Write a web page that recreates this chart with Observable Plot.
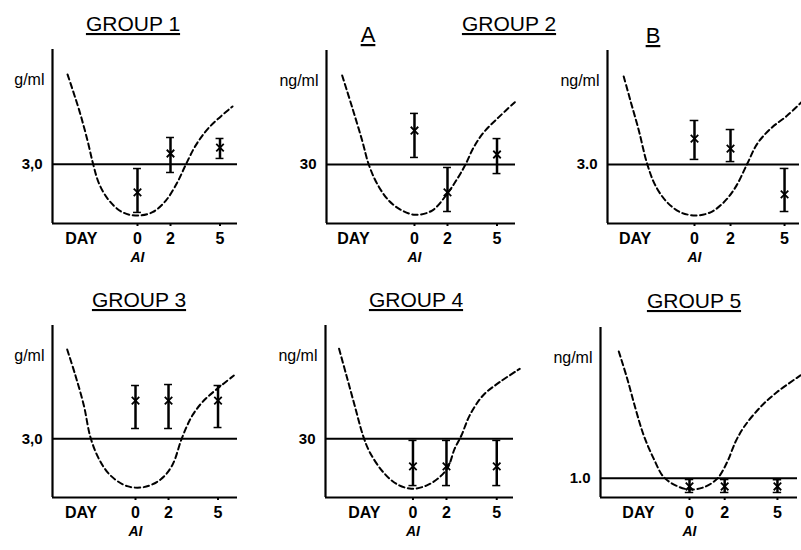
<!DOCTYPE html>
<html>
<head>
<meta charset="utf-8">
<script src="https://cdn.jsdelivr.net/npm/d3@7"></script>
<script src="https://cdn.jsdelivr.net/npm/@observablehq/plot@0.6"></script>
<style>
  html, body { margin: 0; padding: 0; background: #fff; overflow: hidden; }
  #chart { position: relative; width: 801px; height: 550px; background: #fff; }
  #chart svg { position: absolute; overflow: visible; }
</style>
</head>
<body>
<div id="chart"></div>
<script>
// ---------- data ----------
const titleTexts = ["GROUP 1", "A", "GROUP 2", "B", "GROUP 3", "GROUP 4", "GROUP 5"];
const days = [0, 2, 5];
const dayTickLabels = ["0", "2", "5"];
const dayWord = "DAY";
const dayWordAt = [-3.4, -3.7, -3.3, -3.3, -2.9, -2.9];
const units = ["g/ml", "ng/ml", "ng/ml", "g/ml", "ng/ml", "ng/ml"];
const refValues = [3.0, 3.0, 3.0, 3.0, 3.0, 1.0];
const refLabels = ["3,0", "30", "3.0", "3,0", "30", "1.0"];
const xTitle = "AI";

// dashed curves [day, value]
const curve1 = [[-4.24,7.54],[-3.53,5.72],[-3.03,4.20],[-2.68,2.98],[-2.32,2.0],[-1.72,1.16],[-0.91,0.57],[0,0.40],
  [0.91,0.57],[1.72,1.16],[2.42,2.09],[2.93,2.98],[3.53,3.95],[4.35,4.87],[5.76,5.92]];
const curve2 = [[-4.38,7.53],[-3.78,5.92],[-3.17,4.22],[-2.77,3.0],[-2.26,2.02],[-1.56,1.17],[-0.75,0.66],[0.06,0.44],
  [1.07,0.66],[1.98,1.51],[2.59,2.27],[3.09,3.0],[3.59,3.88],[4.2,4.64],[5.11,5.41],[6.08,6.17]];
const curve3 = [[-3.93,7.48],[-3.56,6.26],[-3.09,4.73],[-2.63,3.04],[-2.17,1.93],[-1.52,1.08],[-0.78,0.57],[0.06,0.41],
  [0.89,0.57],[1.63,1.08],[2.28,1.85],[2.93,3.04],[3.48,4.05],[4.22,4.82],[5.15,5.49],[5.94,6.17]];
const curve4 = [[-4.14,7.57],[-3.64,6.24],[-3.13,4.71],[-2.73,3.08],[-2.22,1.98],[-1.52,1.13],[-0.5,0.58],[0.5,0.53],
  [1.52,0.92],[2.22,1.64],[2.83,3.08],[3.44,4.19],[4.14,4.96],[4.95,5.56],[5.96,6.24]];
const curve5 = [[-4.41,7.61],[-3.97,6.24],[-3.48,4.71],[-2.98,3.17],[-2.58,2.32],[-1.78,1.30],[-0.99,0.70],[-0.10,0.45],
  [0.80,0.61],[1.59,1.04],[2.09,1.55],[2.49,2.50],[2.89,3.17],[3.38,4.19],[4.18,5.22],[5.17,5.90],[6.37,6.58]];
const curve6 = [[-4.02,7.56],[-3.54,6.15],[-3.07,4.6],[-2.6,3.21],[-2.03,2.0],[-1.46,1.05],[-0.7,0.59],[0.02,0.41],
  [0.81,0.53],[1.57,0.97],[2.14,1.83],[2.61,2.87],[3.09,3.64],[4.03,4.68],[4.98,5.46],[6.31,6.32]];

// error bars at days 0, 2, 5
const mean1 = [1.57, 3.54, 3.84], lo1 = [0.56, 2.58, 3.29], hi1 = [2.78, 4.35, 4.30];
const mean2 = [4.73, 1.58, 3.51], lo2 = [3.36, 0.61, 2.54], hi2 = [5.60, 2.85, 4.32];
const mean3 = [4.32, 3.81, 1.48], lo3 = [3.26, 3.15, 0.61], hi3 = [5.24, 4.78, 2.80];
const mean4 = [4.96, 4.96, 4.96], lo4 = [3.53, 3.53, 3.58], hi4 = [5.73, 5.78, 5.73];
const mean5 = [1.59, 1.59, 1.59], lo5 = [0.61, 0.61, 0.61], hi5 = [2.92, 2.92, 2.92];
const mean6 = [0.57, 0.57, 0.57], lo6 = [0.26, 0.26, 0.26], hi6 = [0.93, 0.93, 0.92];

// ---------- layout ----------
const curves = [curve1, curve2, curve3, curve4, curve5, curve6];
const means = [mean1, mean2, mean3, mean4, mean5, mean6];
const los = [lo1, lo2, lo3, lo4, lo5, lo6];
const his = [hi1, hi2, hi3, hi4, hi5, hi6];
const frames = [
  {left: 52,  top: 49,  w: 185, h: 174, xd: [-5.15, 6.06]},
  {left: 326, top: 50,  w: 189, h: 173, xd: [-5.33, 6.12]},
  {left: 607, top: 50,  w: 192, h: 173, xd: [-4.83, 5.83]},
  {left: 52,  top: 325, w: 185, h: 172, xd: [-5.03, 6.18]},
  {left: 325, top: 325, w: 188, h: 172, xd: [-5.22, 6.00]},
  {left: 600, top: 327, w: 197, h: 170, xd: [-5.06, 6.14]}
];
const titlePos = [[133, 31], [368, 42], [509, 31], [653, 43], [139, 307], [416, 307], [694, 308]];
const FONT = "'Liberation Sans', Arial, sans-serif";

const root = document.getElementById("chart");

frames.forEach((F, i) => {
  const mL = 60, mR = 14, mT = 12, mB = 50;
  const rows = days.map((d, k) => ({day: d, mean: means[i][k], lo: los[i][k], hi: his[i][k]}));
  const pts = curves[i].map(([x, y]) => ({x, y}));
  const tickPos = [dayWordAt[i], ...days];
  const tickLab = new Map(tickPos.map((t, k) => [t, [dayWord, ...dayTickLabels][k]]));
  const cap = 0.24;
  const svg = Plot.plot({
    width: F.w + mL + mR,
    height: F.h + mT + mB,
    marginLeft: mL, marginRight: mR, marginTop: mT, marginBottom: mB,
    x: {domain: F.xd},
    y: {domain: [0, 8.8]},
    style: {fontFamily: FONT, color: "black", background: "transparent", overflow: "visible"},
    marks: [
      Plot.ruleY([refValues[i]], {stroke: "black", strokeWidth: 2}),
      Plot.ruleY([0], {stroke: "black", strokeWidth: 2.2}),
      Plot.ruleX([F.xd[0]], {stroke: "black", strokeWidth: 2.2}),
      Plot.axisX({ticks: days, tickSize: 3, tickFormat: () => "", label: null, strokeWidth: 2}),
      Plot.axisX({ticks: tickPos, tickSize: 0, tickPadding: 9, tickFormat: d => tickLab.get(d),
        label: null, fontSize: 16, fontWeight: "bold"}),
      Plot.axisY({ticks: [refValues[i]], tickSize: 0, tickPadding: 10, tickFormat: () => refLabels[i],
        label: null, fontSize: 15, fontWeight: "bold"}),
      Plot.text([units[i]], {frameAnchor: "top-left", textAnchor: "end", dx: -8, dy: 24, fontSize: 16}),
      Plot.text([0], {x: d => d, frameAnchor: "bottom", dy: 38, text: () => xTitle,
        fontSize: 14, fontWeight: "bold", fontStyle: "italic"}),
      Plot.line(pts, {x: "x", y: "y", curve: "catmull-rom", stroke: "black",
        strokeWidth: 2, strokeDasharray: "5.5,3.5"}),
      Plot.ruleX(rows, {x: "day", y1: "lo", y2: "hi", stroke: "black", strokeWidth: 2.5}),
      Plot.ruleY(rows, {y: "hi", x1: d => d.day - cap, x2: d => d.day + cap, stroke: "black", strokeWidth: 1.5}),
      Plot.ruleY(rows, {y: "lo", x1: d => d.day - cap, x2: d => d.day + cap, stroke: "black", strokeWidth: 1.5}),
      Plot.dot(rows, {x: "day", y: "mean", symbol: "times", r: 3.5, stroke: "black", strokeWidth: 1.8})
    ]
  });
  svg.style.left = (F.left - mL) + "px";
  svg.style.top = (F.top - mT) + "px";
  root.appendChild(svg);
});

// titles
const overlay = d3.select(root).append("svg")
  .attr("width", 801).attr("height", 550)
  .style("left", "0px").style("top", "0px").style("pointer-events", "none");
overlay.selectAll("text").data(titleTexts).join("text")
  .attr("x", (d, k) => titlePos[k][0])
  .attr("y", (d, k) => titlePos[k][1])
  .attr("text-anchor", "middle")
  .attr("font-family", FONT)
  .attr("font-size", d => d.length === 1 ? 22 : 21)
  .attr("text-decoration", "underline")
  .attr("fill", "black")
  .text(d => d);
</script>
</body>
</html>
